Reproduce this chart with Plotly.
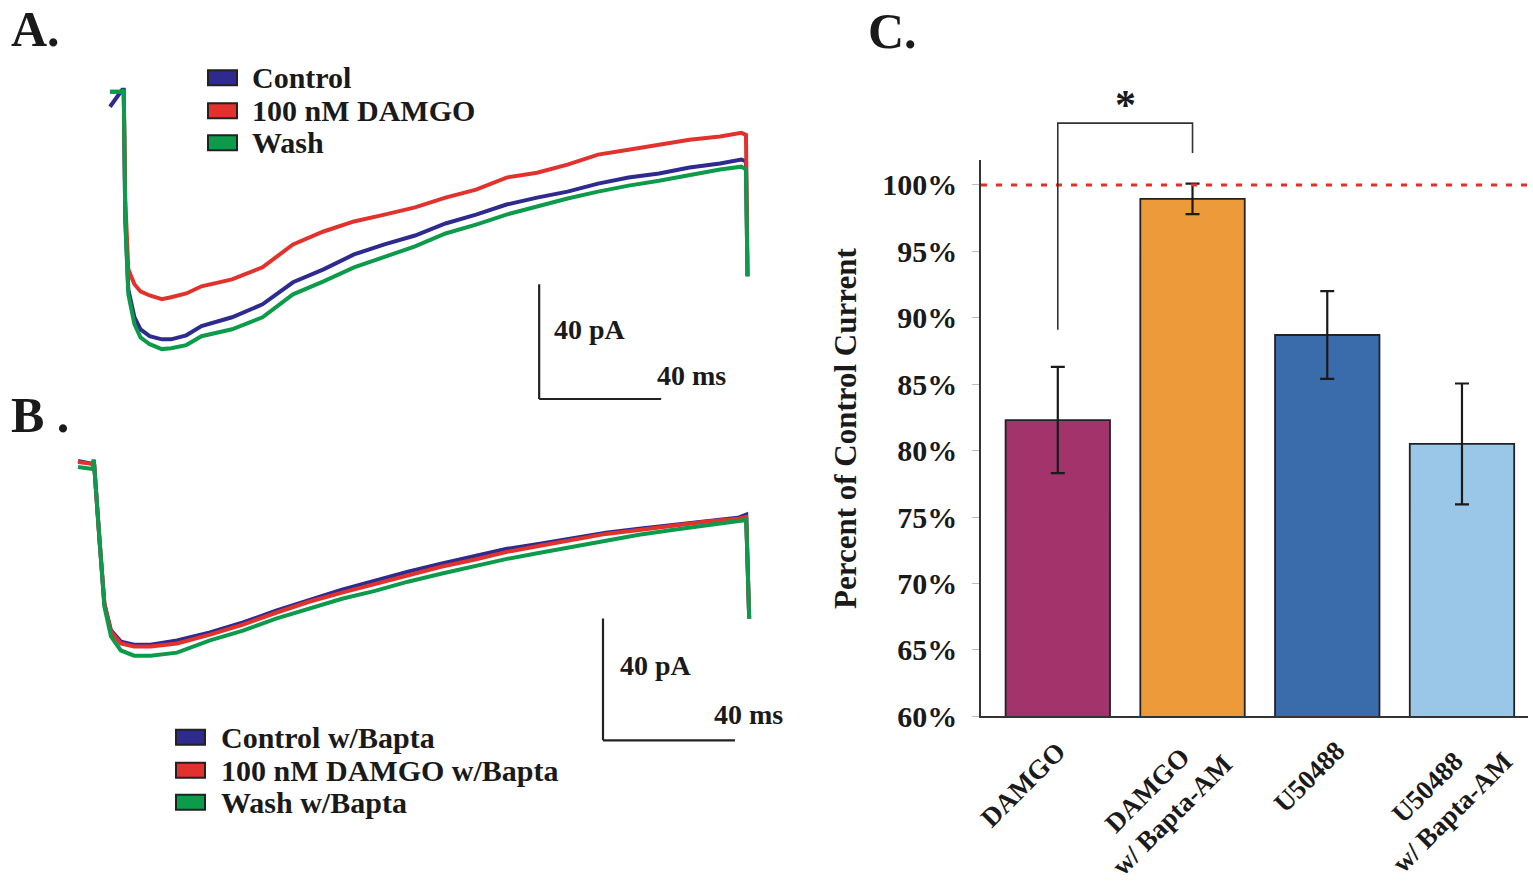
import plotly.graph_objects as go

W, H = 1533, 886
FONT = "Liberation Serif"

# ---------------- Panel A data (time in ms, current in pA) ----------------
tA = [0, 4, 4.5, 5, 6, 8, 10, 13, 17, 20, 25, 30, 40, 50, 60, 70, 80, 90, 100,
      110, 120, 130, 140, 150, 160, 170, 180, 190, 200, 207, 208.5, 209]
a_control = [-5.9, 0, 0, -45.2, -69.6, -79.3, -83.5, -85.9, -87.0, -87.0, -85.6, -82.4,
             -79.3, -74.8, -67.1, -62.6, -57.4, -53.9, -50.8, -46.6, -43.5, -40.0,
             -37.6, -35.5, -32.7, -30.6, -29.2, -27.1, -25.7, -24.3, -25.0, -65.0]
a_damgo = [-0.7, -0.7, -0.7, -38.3, -62.6, -67.8, -70.3, -71.7, -73.0, -72.3, -71.0, -68.5,
           -66.1, -61.9, -53.9, -49.4, -45.9, -43.5, -41.0, -37.6, -34.8, -30.6,
           -28.9, -26.1, -22.6, -20.9, -19.1, -17.4, -16.3, -15.0, -15.7, -65.0]
a_wash = [-0.7, -0.7, 0, -45.2, -71.3, -81.7, -86.3, -88.7, -90.4, -90.1, -89.0, -85.9,
          -83.5, -79.3, -71.3, -66.8, -61.9, -58.4, -54.6, -50.1, -47.0, -43.5,
          -40.7, -37.9, -35.5, -33.4, -31.7, -29.6, -27.8, -26.8, -27.8, -65.0]
a_names = ["Control", "100 nM DAMGO", "Wash"]

# ---------------- Panel B data ----------------
tB = [0, 4.5, 4.8, 5.5, 6.5, 8, 10, 13, 17, 22, 30, 40, 50, 60, 70, 80, 90, 100,
      110, 120, 130, 140, 150, 160, 170, 180, 190, 200, 202.5, 203.4]
b_control = [-0.3, -1.3, 0, -12.8, -25.9, -47.2, -56.0, -59.7, -60.7, -60.7, -59.3, -56.7,
             -53.4, -49.5, -45.9, -42.6, -39.7, -36.7, -34.1, -31.8, -29.2, -27.5,
             -25.6, -23.9, -22.6, -21.3, -20.0, -19.0, -18.0, -52.1]
b_damgo = [-0.7, -1.3, 0, -12.8, -25.9, -47.2, -56.4, -60.3, -61.3, -61.3, -60.3, -57.4,
           -54.1, -50.2, -46.6, -43.6, -40.7, -37.7, -35.1, -32.8, -30.2, -28.2,
           -26.2, -24.3, -23.0, -21.6, -20.3, -19.3, -18.7, -52.1]
b_wash = [-2.3, -3.0, 0, -12.8, -25.9, -48.2, -58.0, -62.6, -64.3, -64.3, -63.3, -59.3,
          -56.1, -52.1, -48.9, -45.6, -43.0, -40.0, -37.4, -34.8, -32.5, -30.5,
          -28.5, -26.6, -24.6, -23.0, -21.6, -20.3, -19.7, -52.1]
b_names = ["Control w/Bapta", "100 nM DAMGO w/Bapta", "Wash w/Bapta"]

# ---------------- Panel C data ----------------
categories = ["DAMGO", "DAMGO<br>w/ Bapta-AM", "U50488", "U50488<br>w/ Bapta-AM"]
pct_values = [82.3, 98.95, 88.7, 80.5]
pct_errors = [4.0, 1.15, 3.3, 4.55]
y_ticks = [60, 65, 70, 75, 80, 85, 90, 95, 100]
y_ticklabels = ["60%", "65%", "70%", "75%", "80%", "85%", "90%", "95%", "100%"]

# scale bars
SCALE_PA = 40
SCALE_MS = 40

trace_colors = ["#2E2A8E", "#E2322E", "#0E9A4B"]
bar_colors = ["#A2336B", "#ED9A3A", "#3A6BAB", "#9AC6E7"]

# rotated category label placement (pixel shift from bar centre, vertical centre)
label_xshift = [-35, -33, -18, -22]
label_ycenter = [787, 804, 779, 801]

# layout helpers (vertical positions measured on an 871-px tall grid)
HY = 871


def fx(px):
    return px / W


def fy(py):
    return 1 - py / HY


# axis geometry
A_XR = [-3.28, 213.1]
A_YR = [-111.3, 3.48]
B_XR = [-2.42, 218.8]
B_YR = [-98.0, 3.6]
C_XR = [-0.57, 3.49]
C_YR = [60, 101.9]
C_XD = [fx(981), fx(1528)]
C_YD = [fy(718), fy(160)]


def cx(v):
    return C_XD[0] + (v - C_XR[0]) / (C_XR[1] - C_XR[0]) * (C_XD[1] - C_XD[0])


def cy(v):
    return C_YD[0] + (v - C_YR[0]) / (C_YR[1] - C_YR[0]) * (C_YD[1] - C_YD[0])


fig = go.Figure()

for ys, name, col in zip([a_control, a_damgo, a_wash], a_names, trace_colors):
    fig.add_trace(go.Scatter(x=tA, y=ys, mode="lines", name=name,
                             line=dict(color=col, width=4), xaxis="x", yaxis="y",
                             showlegend=False))
for ys, name, col in zip([b_control, b_damgo, b_wash], b_names, trace_colors):
    fig.add_trace(go.Scatter(x=tB, y=ys, mode="lines", name=name,
                             line=dict(color=col, width=4), xaxis="x2", yaxis="y2",
                             showlegend=False))

fig.add_trace(go.Bar(
    x=categories, y=pct_values, base=0,
    marker=dict(color=bar_colors, line=dict(color="#222222", width=1.8)),
    width=0.775,
    error_y=dict(type="data", array=pct_errors, color="#1a1a1a", thickness=2.2, width=7),
    xaxis="x3", yaxis="y3", showlegend=False,
))

shapes = []
annotations = []

# scale bars A
sa_t, sa_i = 140.7, -107.8
shapes.append(dict(type="line", xref="x", yref="y", x0=sa_t, x1=sa_t,
                   y0=sa_i + SCALE_PA, y1=sa_i, line=dict(color="#222", width=2.2)))
shapes.append(dict(type="line", xref="x", yref="y", x0=sa_t, x1=sa_t + SCALE_MS,
                   y0=sa_i, y1=sa_i, line=dict(color="#222", width=2.2)))
annotations.append(dict(xref="x", yref="y", x=144.9, y=-83.5, text=f"{SCALE_PA} pA",
                        xanchor="left", yanchor="middle", showarrow=False,
                        font=dict(family=FONT, size=28, color="#1a1a1a", weight="bold")))
annotations.append(dict(xref="x", yref="y", x=202.6, y=-99.5, text=f"{SCALE_MS} ms",
                        xanchor="right", yanchor="middle", showarrow=False,
                        font=dict(family=FONT, size=28, color="#1a1a1a", weight="bold")))
# scale bars B
sb_t, sb_i = 159.1, -92.1
shapes.append(dict(type="line", xref="x2", yref="y2", x0=sb_t, x1=sb_t,
                   y0=sb_i + SCALE_PA, y1=sb_i, line=dict(color="#222", width=2.2)))
shapes.append(dict(type="line", xref="x2", yref="y2", x0=sb_t, x1=sb_t + SCALE_MS,
                   y0=sb_i, y1=sb_i, line=dict(color="#222", width=2.2)))
annotations.append(dict(xref="x2", yref="y2", x=163.6, y=-67.5, text=f"{SCALE_PA} pA",
                        xanchor="left", yanchor="middle", showarrow=False,
                        font=dict(family=FONT, size=28, color="#1a1a1a", weight="bold")))
annotations.append(dict(xref="x2", yref="y2", x=214.2, y=-83.6, text=f"{SCALE_MS} ms",
                        xanchor="right", yanchor="middle", showarrow=False,
                        font=dict(family=FONT, size=28, color="#1a1a1a", weight="bold")))


# custom legends
def legend_block(x_sq, y_centers, x_text, names):
    for yc, name, col in zip(y_centers, names, trace_colors):
        shapes.append(dict(type="rect", xref="paper", yref="paper",
                           x0=fx(x_sq), x1=fx(x_sq + 29), y0=fy(yc + 7.5), y1=fy(yc - 7.5),
                           fillcolor=col, line=dict(color="#222", width=2)))
        annotations.append(dict(xref="paper", yref="paper", x=fx(x_text), y=fy(yc),
                                text=name, xanchor="left", yanchor="middle", showarrow=False,
                                font=dict(family=FONT, size=30, color="#1a1a1a", weight="bold")))


legend_block(208, [78, 111, 143], 250, a_names)
legend_block(176, [739, 772, 804], 219, b_names)

# panel labels
for txt, xp, yp in [("A.", 9, 29), ("B .", 9, 416), ("C.", 866, 31)]:
    annotations.append(dict(xref="paper", yref="paper", x=fx(xp), y=fy(yp), text=txt,
                            xanchor="left", yanchor="middle", showarrow=False,
                            font=dict(family=FONT, size=50, color="#1a1a1a", weight="bold")))

# 100% reference line
shapes.append(dict(type="line", xref="x3 domain", yref="y3", x0=0, x1=1, y0=100, y1=100,
                   line=dict(color="#E0302A", width=3, dash="6px,9px")))

# significance bracket (DAMGO vs DAMGO w/ Bapta-AM)
br_top, br_left_bot, br_right_bot = 104.65, 89.1, 102.4
shapes.append(dict(type="path", xref="paper", yref="paper",
                   path=f"M {cx(0)},{cy(br_left_bot)} L {cx(0)},{cy(br_top)} "
                        f"L {cx(1)},{cy(br_top)} L {cx(1)},{cy(br_right_bot)}",
                   line=dict(color="#333", width=1.6)))
annotations.append(dict(xref="paper", yref="paper", x=(cx(0) + cx(1)) / 2, y=cy(106.0),
                        text="*", showarrow=False, xanchor="center", yanchor="middle",
                        font=dict(family=FONT, size=42, color="#1a1a1a", weight="bold")))

# rotated category labels
for i, (lab, dx, yc) in enumerate(zip(categories, label_xshift, label_ycenter)):
    annotations.append(dict(xref="x3", yref="paper", x=i, y=fy(yc), xshift=dx,
                            text=lab, textangle=-45, align="center", showarrow=False,
                            xanchor="center", yanchor="middle",
                            font=dict(family=FONT, size=27, color="#1a1a1a", weight="bold")))

# y-axis title
annotations.append(dict(xref="paper", yref="paper", x=fx(845), y=fy(430),
                        text="Percent of Control Current", textangle=-90, showarrow=False,
                        xanchor="center", yanchor="middle",
                        font=dict(family=FONT, size=31, color="#1a1a1a", weight="bold")))

hidden = dict(visible=False, showgrid=False, zeroline=False)

fig.update_layout(
    width=W, height=H,
    margin=dict(l=0, r=0, t=0, b=0),
    paper_bgcolor="white", plot_bgcolor="rgba(0,0,0,0)",
    font=dict(family=FONT, color="#1a1a1a"),
    xaxis=dict(domain=[fx(100), fx(760)], range=A_XR, anchor="y", **hidden),
    yaxis=dict(domain=[fy(410), fy(80)], range=A_YR, anchor="x", **hidden),
    xaxis2=dict(domain=[fx(70), fx(800)], range=B_XR, anchor="y2", **hidden),
    yaxis2=dict(domain=[fy(760), fy(450)], range=B_YR, anchor="x2", **hidden),
    xaxis3=dict(domain=C_XD, range=C_XR, anchor="y3", type="category",
                showline=True, linecolor="#333", linewidth=1.6, showgrid=False,
                zeroline=False, ticks="", showticklabels=False),
    yaxis3=dict(domain=C_YD, range=C_YR, anchor="x3",
                showline=True, linecolor="#333", linewidth=1.6, showgrid=False,
                zeroline=False, tickvals=y_ticks, ticktext=y_ticklabels,
                ticks="outside", ticklen=7, tickcolor="#bbbbbb", ticklabelstandoff=9,
                tickfont=dict(family=FONT, size=30, color="#1a1a1a", weight="bold")),
    shapes=shapes,
    annotations=annotations,
    bargap=0.225,
)

fig.write_html(
    "out.html",
    config={"displayModeBar": False},
    post_script="document.body.style.margin='0px';document.body.style.padding='0px';"
                "document.documentElement.style.overflow='hidden';",
)
